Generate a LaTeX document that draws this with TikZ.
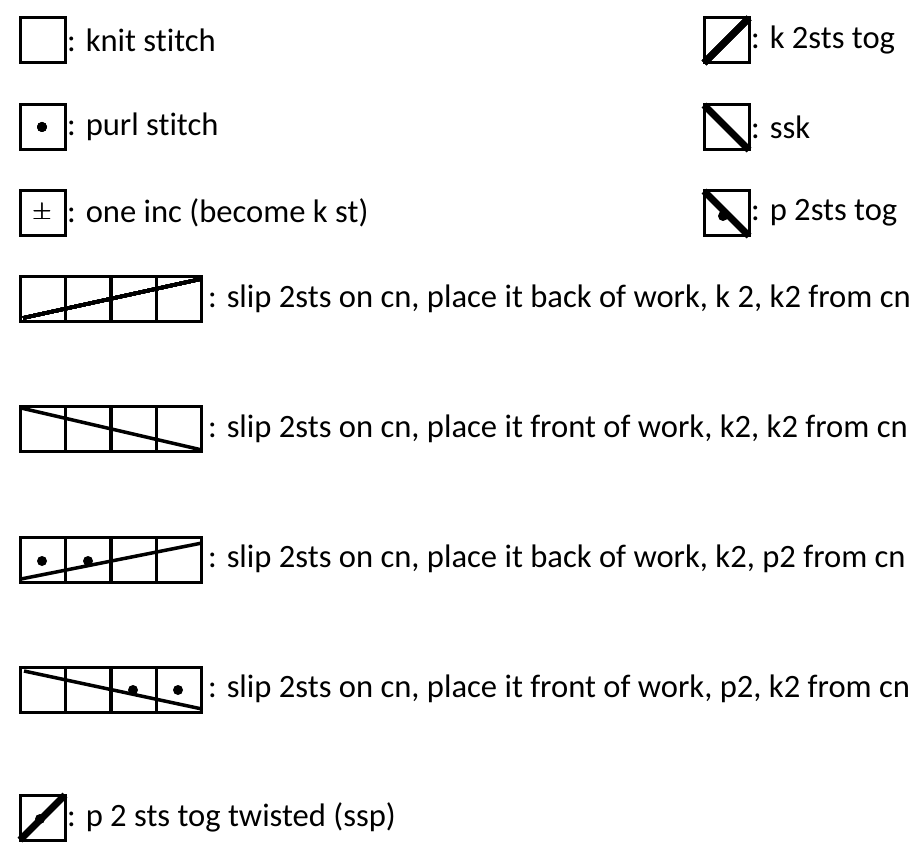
\documentclass[tikz,border=0pt]{standalone}
\usepackage{fontspec}
\setmainfont[Ligatures={NoCommon}]{Carlito}
\usepackage{tikz}
\usetikzlibrary{calc}
\tikzset{
  cell/.style={line width=3pt},
  tog/.style={line width=7pt},
  cable/.style={line width=3.5pt},
  lbl/.style={anchor=west,inner sep=0pt,font=\fontsize{32.6}{38}\selectfont}
}
% one 45x45 box with its top left corner at #1
\newcommand\stbox[1]{\draw[cell] #1 rectangle ++(45,45);}
\newcommand\purl[1]{\fill[black] #1 circle (5);}

\begin{document}
\begin{tikzpicture}[x=1pt,y=-1pt]
\useasboundingbox (0,0) rectangle (924,858);
% single stitches, left column
\foreach\y in {18,105,191}
 \stbox{(20,\y)}
\purl{(42,127)}
\node[inner sep=0pt,font=\fontsize{24}{28}\selectfont] (inc) at (42,213) {$\pm$};
\node[lbl] (knit) at (67,40) {: knit stitch};
\node[lbl] (purl) at (67,127) {: purl stitch};
\node[lbl] (one inc) at (67,213) {: one inc (become k st)};
% decreases, right column
\foreach\y in {18,105,191}
 \stbox{(704,\y)}
\draw[tog] (704,63)--(749,18);
\draw[tog] (704,105)--(749,150);
\draw[tog] (704,191)--(749,236);
\purl{(723,216)}
\node[lbl] (k2tog) at (751,40) {: k 2sts tog};
\node[lbl] (ssk) at (751,127) {: ssk};
\node[lbl] (p2tog) at (751,213) {: p 2sts tog};
% cables, four cells each
\foreach\y in {277,407,537,667}
 \foreach\x in {0,1,2,3}
  \stbox{($(20,\y)+(\x*45.5,0)$)}
\draw[cable] (23,318)--(201,279);
\draw[cable] (21,408)--(202,450);
\draw[cable] (21,579)--(202,543);
\draw[cable] (24,671)--(202,709);
\purl{(42,561)}
\purl{(88,561)}
\purl{(133,690)}
\purl{(178,690)}
\node[lbl] (c1) at (208,299) {: slip 2sts on cn, place it back of work, k 2, k2 from cn};
\node[lbl] (c2) at (208,429) {: slip 2sts on cn, place it front of work, k2, k2 from cn};
\node[lbl] (c3) at (208,559) {: slip 2sts on cn, place it back of work, k2, p2 from cn};
\node[lbl] (c4) at (208,689) {: slip 2sts on cn, place it front of work, p2, k2 from cn};
% twisted purl decrease
\stbox{(20,795)}
\draw[tog] (20,840)--(65,795);
\purl{(40,819)}
\node[lbl] (ssp) at (67,817) {: p 2 sts tog twisted (ssp)};
\end{tikzpicture}
\end{document}
